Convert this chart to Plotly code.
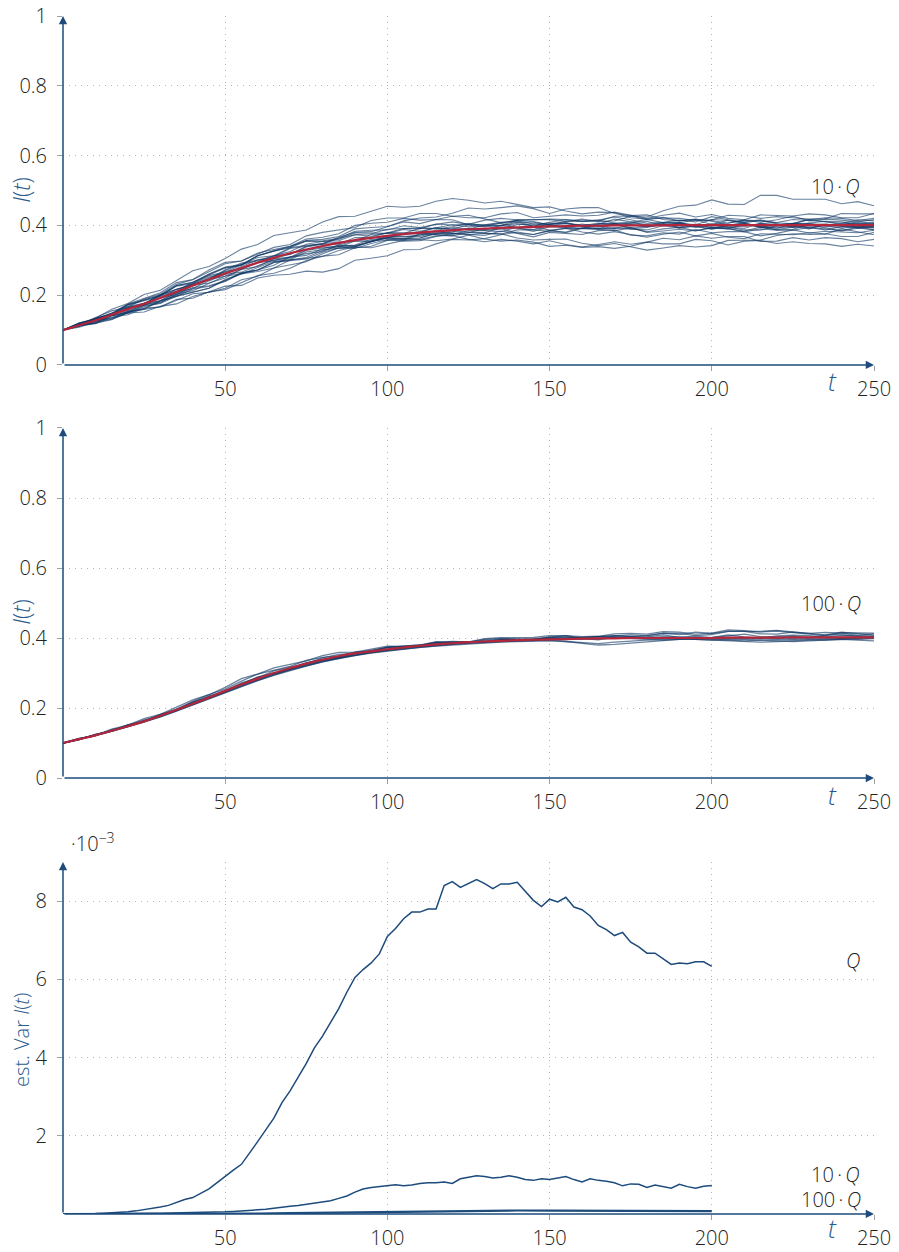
import plotly.graph_objects as go

# ---------------- data ----------------
t_steps = list(range(0, 251, 5))                 # t = 0, 5, ..., 250
t_var = [i * 2.5 for i in range(81)]             # t = 0, 2.5, ..., 200
t_var100 = list(range(0, 201, 10))

mean_10q = [.100,.114,.128,.144,.160,.175,.192,.210,.228,.245,
            .262,.278,.293,.307,.320,.331,.341,.350,.358,.364,
            .370,.375,.379,.383,.386,.389,.391,.393,.394,.396,
            .397,.398,.399,.399,.400,.400,.400,.400,.401,.401,
            .401,.401,.401,.401,.401,.401,.401,.401,.401,.401,
            .401]

path_10q_a = [.100,.120,.133,.160,.176,.202,.214,.241,.270,.282, .305,.332,.345,.371,.379,.387,.410,.425,.426,.441,
              .455,.452,.455,.469,.477,.472,.464,.469,.461,.451, .453,.441,.433,.438,.437,.422,.418,.423,.413,.417,
              .402,.407,.415,.409,.416,.426,.413,.418,.415,.410, .416]
path_10q_b = [.100,.108,.123,.131,.149,.152,.168,.175,.196,.209, .216,.235,.256,.263,.277,.299,.312,.316,.336,.340,
              .357,.363,.364,.378,.377,.379,.391,.391,.378,.374, .385,.391,.389,.389,.394,.389,.387,.399,.406,.396,
              .390,.395,.387,.386,.399,.403,.393,.387,.396,.395, .394]
path_10q_c = [.100,.113,.127,.135,.154,.162,.185,.198,.209,.220, .243,.261,.268,.278,.301,.306,.311,.328,.338,.336,
              .346,.357,.359,.356,.361,.372,.361,.355,.358,.352, .340,.343,.337,.339,.334,.340,.352,.347,.347,.360,
              .356,.344,.355,.357,.348,.353,.348,.347,.340,.346, .341]
path_10q_d = [.100,.115,.132,.149,.158,.177,.191,.217,.228,.249, .268,.276,.295,.313,.317,.340,.348,.352,.356,.374,
              .377,.377,.392,.392,.390,.401,.401,.400,.415,.417, .416,.411,.418,.411,.413,.426,.424,.442,.455,.458,
              .473,.461,.460,.486,.486,.475,.475,.475,.462,.468, .456]
path_10q_e = [.100,.120,.131,.146,.173,.185,.199,.228,.237,.260, .279,.286,.313,.327,.338,.357,.360,.368,.390,.394,
              .397,.410,.405,.417,.426,.422,.422,.433,.437,.422, .425,.430,.427,.429,.438,.430,.420,.429,.435,.424,
              .431,.420,.416,.430,.429,.427,.433,.430,.422,.422, .434]
path_10q_f = [.100,.113,.121,.142,.152,.173,.180,.201,.222,.227, .241,.264,.272,.294,.299,.304,.323,.335,.334,.348,
              .359,.355,.356,.368,.377,.374,.371,.384,.377,.367, .380,.377,.374,.385,.387,.372,.370,.379,.375,.388,
              .379,.382,.382,.370,.377,.387,.378,.383,.382,.379, .386]
path_10q_g = [.100,.112,.133,.145,.164,.175,.197,.207,.233,.252, .262,.283,.302,.305,.317,.338,.346,.346,.365,.366,
              .379,.379,.380,.394,.387,.389,.401,.406,.394,.394, .404,.409,.397,.390,.404,.405,.403,.407,.406,.400,
              .402,.415,.405,.396,.401,.406,.404,.399,.406,.405, .405]
path_10q_h = [.100,.115,.136,.155,.166,.189,.203,.231,.244,.267, .290,.298,.317,.337,.345,.370,.380,.387,.394,.414,
              .421,.421,.434,.434,.426,.429,.419,.408,.415,.411, .402,.395,.404,.397,.391,.402,.396,.408,.409,.396,
              .401,.395,.391,.406,.402,.405,.417,.411,.402,.410, .406]
path_10q_i = [.100,.114,.120,.130,.151,.159,.167,.188,.191,.210, .226,.228,.249,.257,.260,.269,.266,.276,.300,.306,
              .313,.330,.331,.347,.360,.358,.362,.373,.381,.374, .385,.392,.381,.375,.382,.374,.366,.375,.381,.370,
              .377,.366,.362,.376,.375,.373,.379,.376,.368,.368, .380]
path_10q_j = [.100,.115,.132,.143,.164,.174,.201,.216,.229,.244, .271,.289,.298,.310,.334,.341,.347,.366,.380,.382,
              .396,.413,.421,.424,.435,.450,.447,.451,.456,.448, .434,.447,.451,.451,.434,.428,.430,.417,.413,.418,
              .412,.400,.405,.399,.392,.405,.406,.399,.392,.398, .393]
path_10q_k = [.100,.115,.124,.147,.156,.177,.184,.206,.228,.235, .249,.274,.282,.304,.309,.314,.333,.343,.342,.354,
              .365,.359,.360,.370,.371,.360,.353,.360,.355,.347, .356,.345,.338,.345,.353,.346,.352,.363,.359,.370,
              .363,.368,.368,.354,.355,.365,.358,.365,.362,.353, .360]
path_10q_l = [.100,.113,.134,.146,.168,.177,.200,.211,.237,.256, .266,.287,.308,.313,.325,.346,.354,.356,.373,.376,
              .389,.391,.390,.404,.401,.403,.415,.420,.416,.416, .418,.417,.411,.412,.426,.427,.417,.421,.420,.414,
              .416,.429,.427,.420,.425,.422,.418,.419,.434,.433, .433]
path_10q_m = [.100,.112,.128,.144,.153,.172,.184,.208,.219,.241, .260,.266,.284,.301,.306,.328,.335,.339,.344,.360,
              .363,.361,.376,.376,.374,.385,.385,.382,.395,.395, .386,.379,.392,.391,.391,.394,.380,.384,.389,.384,
              .395,.391,.381,.390,.386,.389,.401,.393,.384,.392, .388]
path_10q_n = [.100,.119,.130,.144,.171,.183,.197,.226,.233,.258, .278,.286,.313,.327,.340,.361,.366,.376,.400,.406,
              .409,.420,.415,.417,.416,.402,.396,.399,.405,.398, .409,.416,.413,.415,.424,.416,.406,.409,.415,.410,
              .425,.416,.410,.416,.407,.405,.417,.422,.420,.414, .420]
path_10q_o = [.100,.113,.127,.133,.152,.160,.183,.196,.207,.220, .245,.263,.272,.286,.310,.319,.325,.344,.356,.354,
              .364,.375,.377,.374,.381,.392,.387,.389,.402,.404, .400,.405,.399,.407,.402,.408,.412,.399,.393,.400,
              .394,.390,.403,.397,.388,.395,.396,.395,.396,.404, .397]
path_10q_p = [.100,.112,.131,.142,.163,.171,.192,.202,.227,.245, .254,.274,.294,.299,.309,.330,.338,.338,.355,.356,
              .369,.369,.368,.382,.377,.373,.377,.376,.364,.358, .360,.361,.349,.342,.348,.339,.329,.335,.342,.338,
              .342,.357,.357,.358,.371,.376,.374,.375,.390,.381, .373]
path_10q_q = [.100,.120,.132,.148,.175,.191,.207,.236,.245,.272, .294,.298,.321,.331,.340,.355,.354,.360,.378,.378,
              .377,.388,.383,.393,.402,.396,.398,.407,.413,.404, .407,.406,.401,.403,.418,.410,.400,.401,.407,.402,
              .417,.414,.408,.414,.405,.395,.407,.412,.410,.404, .408]
path_10q_r = [.100,.112,.118,.137,.144,.163,.166,.185,.204,.208, .220,.244,.254,.278,.287,.296,.319,.335,.338,.354,
              .369,.367,.372,.386,.393,.390,.387,.400,.393,.383, .396,.393,.392,.405,.405,.390,.394,.405,.393,.398,
              .389,.400,.408,.394,.393,.397,.390,.403,.402,.391, .398]
path_10q_s = [.100,.116,.133,.143,.165,.175,.201,.217,.231,.246, .273,.292,.300,.313,.336,.343,.347,.363,.373,.369,
              .379,.391,.393,.390,.396,.406,.399,.399,.409,.409, .402,.412,.411,.415,.407,.409,.417,.408,.407,.416,
              .414,.406,.415,.413,.408,.417,.414,.409,.406,.416, .413]
path_10q_t = [.100,.111,.126,.141,.148,.167,.178,.203,.213,.235, .255,.261,.279,.297,.302,.324,.330,.334,.339,.356,
              .359,.358,.373,.373,.370,.380,.378,.375,.387,.387, .383,.381,.393,.388,.385,.392,.382,.390,.394,.385,
              .392,.390,.384,.395,.387,.386,.394,.390,.385,.395, .387]
path_10q_u = [.100,.119,.131,.146,.173,.186,.200,.228,.236,.261, .281,.288,.313,.326,.336,.355,.356,.363,.383,.386,
              .387,.399,.394,.403,.410,.403,.402,.409,.410,.398, .404,.406,.398,.395,.406,.402,.396,.401,.403,.394,
              .405,.398,.396,.406,.401,.395,.403,.404,.398,.394, .402]
path_10q_v = [.100,.113,.120,.141,.149,.170,.176,.197,.218,.225, .239,.263,.272,.294,.301,.308,.328,.340,.340,.354,
              .366,.362,.364,.377,.384,.381,.379,.393,.392,.388, .401,.395,.391,.401,.405,.394,.396,.403,.395,.404,
              .393,.400,.404,.394,.397,.403,.392,.401,.402,.395, .398]

mean_100q = [.100,.111,.122,.135,.148,.162,.178,.195,.212,.230,
             .249,.267,.284,.300,.314,.327,.338,.348,.356,.362,
             .368,.373,.378,.382,.385,.388,.390,.392,.394,.395,
             .396,.397,.398,.399,.399,.400,.400,.400,.400,.400,
             .400,.401,.401,.401,.401,.402,.402,.402,.402,.402,
             .402]

path_100q_a = [.100,.113,.122,.140,.151,.170,.182,.203,.223,.238, .259,.284,.297,.315,.325,.335,.350,.359,.360,.369,
               .377,.376,.379,.387,.390,.389,.389,.396,.397,.395, .403,.401,.401,.404,.403,.400,.403,.409,.402,.405,
               .401,.407,.411,.404,.403,.405,.401,.408,.410,.404, .404]
path_100q_b = [.100,.110,.121,.133,.146,.160,.175,.192,.209,.226, .244,.262,.278,.293,.307,.320,.332,.342,.350,.357,
               .363,.368,.373,.377,.380,.384,.386,.388,.390,.391, .392,.390,.386,.384,.388,.392,.394,.396,.398,.396,
               .394,.396,.398,.400,.398,.396,.398,.400,.398,.396, .398]
path_100q_c = [.100,.110,.125,.135,.152,.163,.182,.196,.219,.238, .254,.277,.297,.308,.319,.336,.345,.349,.360,.363,
               .373,.377,.380,.389,.388,.389,.398,.401,.401,.402, .407,.407,.400,.397,.406,.409,.407,.414,.413,.407,
               .410,.419,.419,.419,.422,.418,.413,.409,.417,.413, .408]
path_100q_d = [.100,.111,.122,.134,.147,.161,.176,.193,.210,.228, .246,.264,.281,.296,.310,.322,.333,.343,.352,.359,
               .366,.372,.376,.380,.384,.387,.390,.392,.395,.397, .398,.400,.402,.404,.406,.404,.402,.400,.398,.396,
               .394,.392,.390,.388,.390,.392,.394,.396,.398,.400, .402]
path_100q_e = [.100,.113,.121,.138,.148,.166,.177,.197,.217,.230, .249,.272,.286,.306,.316,.327,.343,.353,.356,.366,
               .374,.374,.377,.385,.388,.388,.388,.395,.396,.393, .400,.397,.397,.404,.407,.404,.407,.413,.410,.417,
               .413,.419,.419,.412,.411,.417,.413,.416,.414,.408, .412]
path_100q_f = [.100,.111,.122,.135,.148,.162,.177,.194,.211,.229, .248,.266,.283,.298,.312,.324,.335,.344,.352,.359,
               .365,.370,.375,.379,.383,.386,.388,.390,.392,.394, .394,.390,.384,.380,.382,.386,.390,.394,.396,.398,
               .396,.394,.392,.394,.396,.398,.396,.394,.396,.398, .400]
path_100q_g = [.100,.110,.125,.135,.152,.162,.181,.194,.216,.234, .248,.269,.289,.300,.313,.330,.339,.344,.357,.361,
               .371,.375,.377,.387,.386,.388,.396,.399,.397,.398, .403,.407,.404,.405,.412,.413,.411,.418,.417,.411,
               .414,.423,.421,.417,.420,.416,.411,.407,.415,.415, .414]
path_100q_h = [.100,.110,.121,.134,.147,.160,.175,.191,.208,.226, .244,.262,.279,.295,.309,.321,.332,.342,.351,.358,
               .364,.369,.374,.378,.382,.385,.388,.390,.392,.393, .394,.395,.396,.398,.400,.398,.396,.394,.396,.398,
               .400,.398,.396,.394,.392,.390,.392,.394,.396,.394, .392]
path_100q_i = [.100,.110,.124,.134,.151,.161,.180,.193,.215,.233, .248,.269,.287,.297,.310,.328,.339,.345,.359,.363,
               .373,.377,.380,.389,.386,.387,.394,.397,.395,.396, .401,.405,.398,.395,.402,.403,.401,.404,.403,.401,
               .402,.409,.403,.399,.406,.408,.407,.403,.407,.407, .406]
path_100q_j = [.100,.111,.123,.135,.148,.162,.178,.194,.211,.229, .247,.265,.282,.298,.312,.325,.336,.346,.354,.361,
               .367,.373,.378,.382,.386,.389,.391,.393,.395,.396, .397,.398,.399,.400,.401,.400,.399,.400,.401,.402,
               .403,.402,.401,.400,.401,.402,.403,.402,.401,.402, .403]

# estimated variance (units of 1e-3)
var_q = [0,0,0,0.005,0.01,0.02,0.03,0.04,0.06,0.08,
         0.11,0.14,0.18,0.22,0.30,0.37,0.42,0.52,0.64,0.80,
         0.97,1.12,1.27,1.55,1.85,2.15,2.45,2.85,3.15,3.50,
         3.85,4.25,4.55,4.90,5.25,5.67,6.05,6.25,6.42,6.65,
         7.10,7.30,7.55,7.72,7.72,7.80,7.80,8.40,8.50,8.35,
         8.45,8.55,8.45,8.32,8.44,8.44,8.48,8.25,8.02,7.86,
         8.05,7.98,8.10,7.85,7.78,7.62,7.38,7.27,7.12,7.20,
         6.95,6.83,6.67,6.67,6.52,6.38,6.42,6.40,6.45,6.45,
         6.33]
var_10q = [0,0,0,0,0.002,0.004,0.006,0.008,0.01,0.012,
           0.015,0.018,0.02,0.022,0.025,0.028,0.03,0.035,0.04,0.048,
           0.055,0.065,0.075,0.085,0.10,0.12,0.15,0.18,0.20,0.22,
           0.25,0.28,0.31,0.34,0.40,0.46,0.56,0.64,0.68,0.70,
           0.73,0.75,0.72,0.74,0.78,0.80,0.80,0.82,0.78,0.90,
           0.94,0.98,0.96,0.92,0.94,0.98,0.94,0.88,0.86,0.90,
           0.88,0.92,0.96,0.88,0.82,0.90,0.86,0.84,0.80,0.72,
           0.77,0.76,0.68,0.74,0.70,0.66,0.76,0.70,0.66,0.71,
           0.73]
var_100q = [0,0,0.001,0.002,0.004,0.007,0.012,0.02,0.03,0.045,
            0.06,0.075,0.085,0.09,0.09,0.088,0.088,0.085,0.08,0.078,
            0.075]

x_ticks = [50, 100, 150, 200, 250]
y_ticks_I = [0, 0.2, 0.4, 0.6, 0.8, 1]
y_ticktext_I = ["0", "0.2", "0.4", "0.6", "0.8", "1"]
y_ticks_var = [2, 4, 6, 8]

paths_10q = [path_10q_a, path_10q_b, path_10q_c, path_10q_d, path_10q_e, path_10q_f,
             path_10q_g, path_10q_h, path_10q_i, path_10q_j, path_10q_k, path_10q_l,
             path_10q_m, path_10q_n, path_10q_o, path_10q_p, path_10q_q, path_10q_r,
             path_10q_s, path_10q_t, path_10q_u, path_10q_v]
paths_100q = [path_100q_a, path_100q_b, path_100q_c, path_100q_d, path_100q_e,
              path_100q_f, path_100q_g, path_100q_h, path_100q_i, path_100q_j]

# ---------------- style ----------------
PATH_COLOR = "rgba(14,55,100,0.62)"
MEAN_COLOR = "#b3263b"
NAVY = "#1d4b7c"
LABEL_BLUE = "#2b5c8e"
GRID = "#b4b4b4"
FONT = "Open Sans"
TXT = "#222222"

fig = go.Figure()

for p in paths_10q:
    fig.add_trace(go.Scatter(x=t_steps, y=p, mode="lines", xaxis="x", yaxis="y",
                             line=dict(color=PATH_COLOR, width=1.1),
                             hoverinfo="skip", showlegend=False))
fig.add_trace(go.Scatter(x=t_steps, y=mean_10q, mode="lines", xaxis="x", yaxis="y",
                         line=dict(color=MEAN_COLOR, width=2.2, shape="spline"),
                         showlegend=False))

for p in paths_100q:
    fig.add_trace(go.Scatter(x=t_steps, y=p, mode="lines", xaxis="x2", yaxis="y2",
                             line=dict(color=PATH_COLOR, width=1.3),
                             hoverinfo="skip", showlegend=False))
fig.add_trace(go.Scatter(x=t_steps, y=mean_100q, mode="lines", xaxis="x2", yaxis="y2",
                         line=dict(color=MEAN_COLOR, width=2.2, shape="spline"),
                         showlegend=False))

fig.add_trace(go.Scatter(x=t_var, y=var_q, mode="lines", xaxis="x3", yaxis="y3",
                         line=dict(color=NAVY, width=1.5), showlegend=False))
fig.add_trace(go.Scatter(x=t_var, y=var_10q, mode="lines", xaxis="x3", yaxis="y3",
                         line=dict(color=NAVY, width=1.5), showlegend=False))
fig.add_trace(go.Scatter(x=t_var100, y=var_100q, mode="lines", xaxis="x3", yaxis="y3",
                         line=dict(color=NAVY, width=2.2), showlegend=False))

tickfont = dict(family=FONT, size=20, color=TXT, weight=300)
GRIDDASH = "1px,5px"

def xax(anchor):
    return dict(domain=[0, 1], anchor=anchor, range=[0, 250], tickvals=x_ticks,
                showgrid=True, gridcolor=GRID, griddash=GRIDDASH, gridwidth=1.2,
                zeroline=False, showline=False, ticks="outside", ticklen=5,
                tickcolor="#a0a0a0", tickfont=tickfont, ticklabelstandoff=1,
                automargin=False, ticklabeloverflow="allow")

def yax(anchor, dom, rng, tv, tt=None):
    d = dict(domain=dom, anchor=anchor, range=rng, tickvals=tv,
             showgrid=True, gridcolor=GRID, griddash=GRIDDASH, gridwidth=1.2,
             zeroline=False, showline=False, ticks="outside", ticklen=5,
             tickcolor="#a0a0a0", tickfont=tickfont, ticklabelstandoff=6,
             automargin=False, ticklabeloverflow="allow")
    if tt is not None:
        d["ticktext"] = tt
    return d

fig.update_layout(
    width=899, height=1252,
    margin=dict(l=63, r=25, t=16, b=38, autoexpand=False),
    paper_bgcolor="white", plot_bgcolor="white",
    font=dict(family=FONT, color=TXT),
    xaxis=xax("y"), xaxis2=xax("y2"), xaxis3=xax("y3"),
    yaxis=yax("x", [0.7087, 1.0], [0, 1], y_ticks_I, y_ticktext_I),
    yaxis2=yax("x2", [0.3639, 0.6561], [0, 1], y_ticks_I, y_ticktext_I),
    yaxis3=yax("x3", [0.0, 0.2938], [0, 9], y_ticks_var),
)

ann = []
def arrow(xr, yr, x, y, ax, ay):
    return dict(x=x, y=y, ax=ax, ay=ay, xref=xr, yref=yr, axref=xr, ayref=yr,
                showarrow=True, arrowhead=2, arrowsize=1.1, arrowwidth=1.5,
                arrowcolor=NAVY, text="")

ann += [arrow("x", "y", 250, 0, 0, 0), arrow("x", "y", 0, 1, 0, 0),
        arrow("x2", "y2", 250, 0, 0, 0), arrow("x2", "y2", 0, 1, 0, 0),
        arrow("x3", "y3", 250, 0, 0, 0), arrow("x3", "y3", 0, 9, 0, 0)]

def text(s, x, y, xanchor="center", size=20, color=TXT, angle=0, weight=300):
    return dict(text=s, x=x, y=y, xref="paper", yref="paper", xanchor=xanchor,
                yanchor="middle", showarrow=False, textangle=angle,
                font=dict(family=FONT, size=size, color=color, weight=weight))

ann += [
    text("<i>I</i>(<i>t</i>)", -0.052, 0.8548, size=23, color=LABEL_BLUE, angle=-90),
    text("<i>I</i>(<i>t</i>)", -0.052, 0.5025, size=23, color=LABEL_BLUE, angle=-90),
    text("est. Var <i>I</i>(<i>t</i>)", -0.052, 0.1452, size=20, color=LABEL_BLUE, angle=-90),
    text("<i>t</i>", 0.949, 0.6953, size=25, color=LABEL_BLUE),
    text("<i>t</i>", 0.949, 0.3497, size=25, color=LABEL_BLUE),
    text("<i>t</i>", 0.949, -0.0117, size=25, color=LABEL_BLUE),
    text("10\u2009·\u2009<i>Q</i>", 0.985, 0.8573, xanchor="right"),
    text("100\u2009·\u2009<i>Q</i>", 0.987, 0.5100, xanchor="right"),
    text("<i>Q</i>", 0.985, 0.2120, xanchor="right"),
    text("10\u2009·\u2009<i>Q</i>", 0.985, 0.0326, xanchor="right"),
    text("100\u2009·\u2009<i>Q</i>", 0.987, 0.0117, xanchor="right"),
    text("·10<sup>−3</sup>", 0.008, 0.3097, xanchor="left"),
]
fig.update_layout(annotations=ann)

# remove the default 8px page margin so the figure fills the window exactly
fig.write_html("out.html", config={"displayModeBar": False},
               post_script="document.body.style.margin='0';")
